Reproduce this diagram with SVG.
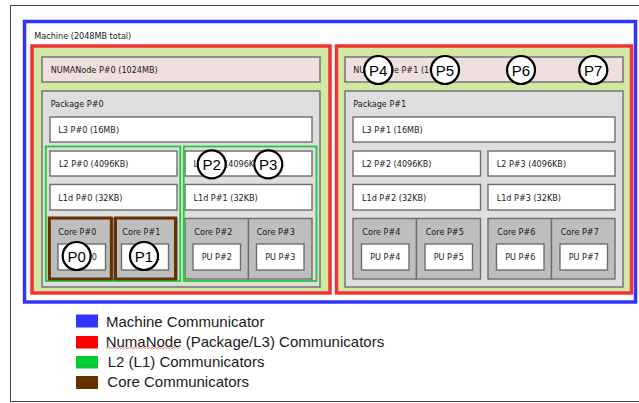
<svg xmlns="http://www.w3.org/2000/svg" width="639" height="403" viewBox="0 0 639 403">
<style>
.box{stroke:#6e6e6e;stroke-width:1.4}
.numa{fill:#efdfde}
.pkg{fill:#dedede}
.cache{fill:#ffffff}
.core{fill:#bebebe}
.pu{fill:#ffffff}
.lbl{font-family:"DejaVu Sans",sans-serif;font-size:8.1px;fill:#1a1a1a}
.mid{text-anchor:middle}
.l2c{fill:none;stroke:#22cc33;stroke-width:1.8}
.corec{fill:none;stroke:#663300;stroke-width:3}
.pc circle{fill:#ffffff;stroke:#000000;stroke-width:2.2}
.pc text{font-family:"Liberation Sans",Arial,sans-serif;font-size:15px;text-anchor:middle;fill:#000}
.leg{font-family:"Liberation Sans",Arial,sans-serif;font-size:15px;fill:#1a1a1a}
</style>
<rect x="0" y="0" width="639" height="403" fill="#ffffff"/>
<path d="M639 5.5H10.5V401.5H639" fill="none" stroke="#444" stroke-width="1"/>

<g id="machine">
<rect x="24.5" y="21.5" width="611" height="280.5" fill="#ffffff" stroke="#3333ff" stroke-width="3.5"/>
<text class="lbl" x="34.3" y="39">Machine (2048MB total)</text>
</g>

<g id="numa0">
<rect x="32" y="46" width="298" height="247" fill="#d2e7a4" stroke="#f33333" stroke-width="3.5"/>
<rect class="box numa" x="42" y="57" width="278" height="25"/>
<text class="lbl" x="50.7" y="73.3">NUMANode P#0 (1024MB)</text>
</g>
<g id="package0">
<rect class="box pkg" x="42" y="91" width="278" height="196"/>
<text class="lbl" x="50.7" y="106.7">Package P#0</text>
</g>
<g id="l3-0">
<rect class="box cache" x="50" y="117" width="262" height="25"/>
<text class="lbl" x="58.3" y="133">L3 P#0 (16MB)</text>
</g>
<g id="l2-0">
<rect class="box cache" x="50" y="151" width="127" height="25"/>
<text class="lbl" x="59" y="166.7">L2 P#0 (4096KB)</text>
</g>
<g id="l2-1">
<rect class="box cache" x="185" y="151" width="127" height="25"/>
<text class="lbl" x="193.5" y="166.7">L2 P#1 (4096KB)</text>
</g>
<g id="l1-0">
<rect class="box cache" x="50" y="184.5" width="127" height="25.5"/>
<text class="lbl" x="58.3" y="201">L1d P#0 (32KB)</text>
</g>
<g id="l1-1">
<rect class="box cache" x="185" y="184.5" width="127" height="25.5"/>
<text class="lbl" x="193.5" y="201">L1d P#1 (32KB)</text>
</g>
<g id="core0">
<rect class="box core" x="50" y="218.5" width="63" height="60.5"/>
<text class="lbl" x="58.3" y="235">Core P#0</text>
<rect class="box pu" x="58" y="244" width="47.5" height="26"/>
<text class="lbl mid" x="81.8" y="260">PU P#0</text>
</g>
<g id="core1">
<rect class="box core" x="113" y="218.5" width="64" height="60.5"/>
<text class="lbl" x="122.3" y="235">Core P#1</text>
<rect class="box pu" x="121.5" y="244" width="47" height="26"/>
<text class="lbl mid" x="145" y="260">PU P#1</text>
</g>
<g id="core2">
<rect class="box core" x="185" y="218.5" width="63.5" height="60.5"/>
<text class="lbl" x="194.3" y="235">Core P#2</text>
<rect class="box pu" x="193" y="244" width="47.5" height="26"/>
<text class="lbl mid" x="216.8" y="260">PU P#2</text>
</g>
<g id="core3">
<rect class="box core" x="248.5" y="218.5" width="63.5" height="60.5"/>
<text class="lbl" x="256.7" y="235">Core P#3</text>
<rect class="box pu" x="256.5" y="244" width="47.5" height="26"/>
<text class="lbl mid" x="280.3" y="260">PU P#3</text>
</g>

<g id="numa1">
<rect x="336.5" y="46" width="295" height="247" fill="#d2e7a4" stroke="#f33333" stroke-width="3.5"/>
<rect class="box numa" x="345" y="57" width="278" height="25"/>
<text class="lbl" x="353.3" y="73.3">NUMANode P#1 (1024MB)</text>
</g>
<g id="package1">
<rect class="box pkg" x="345" y="91" width="278" height="196"/>
<text class="lbl" x="353.3" y="106.7">Package P#1</text>
</g>
<g id="l3-1">
<rect class="box cache" x="353" y="117" width="262" height="25"/>
<text class="lbl" x="362" y="133">L3 P#1 (16MB)</text>
</g>
<g id="l2-2">
<rect class="box cache" x="353" y="151" width="127.5" height="25"/>
<text class="lbl" x="362" y="166.7">L2 P#2 (4096KB)</text>
</g>
<g id="l2-3">
<rect class="box cache" x="488" y="151" width="127" height="25"/>
<text class="lbl" x="496.7" y="166.7">L2 P#3 (4096KB)</text>
</g>
<g id="l1-2">
<rect class="box cache" x="353" y="184.5" width="127.5" height="25.5"/>
<text class="lbl" x="362" y="201">L1d P#2 (32KB)</text>
</g>
<g id="l1-3">
<rect class="box cache" x="488" y="184.5" width="127" height="25.5"/>
<text class="lbl" x="496.7" y="201">L1d P#3 (32KB)</text>
</g>
<g id="core4">
<rect class="box core" x="353" y="218.5" width="63.5" height="60.5"/>
<text class="lbl" x="362.3" y="235">Core P#4</text>
<rect class="box pu" x="361.5" y="244" width="47.5" height="26"/>
<text class="lbl mid" x="385.3" y="260">PU P#4</text>
</g>
<g id="core5">
<rect class="box core" x="416.5" y="218.5" width="64" height="60.5"/>
<text class="lbl" x="425.7" y="235">Core P#5</text>
<rect class="box pu" x="425" y="244" width="47.5" height="26"/>
<text class="lbl mid" x="448.8" y="260">PU P#5</text>
</g>
<g id="core6">
<rect class="box core" x="488" y="218.5" width="63.5" height="60.5"/>
<text class="lbl" x="497.3" y="235">Core P#6</text>
<rect class="box pu" x="496.5" y="244" width="47.5" height="26"/>
<text class="lbl mid" x="520.3" y="260">PU P#6</text>
</g>
<g id="core7">
<rect class="box core" x="551.5" y="218.5" width="63.5" height="60.5"/>
<text class="lbl" x="560.7" y="235">Core P#7</text>
<rect class="box pu" x="560" y="244" width="47.5" height="26"/>
<text class="lbl mid" x="583.8" y="260">PU P#7</text>
</g>

<g id="l2-communicators">
<rect class="l2c" x="45.8" y="146.5" width="134.4" height="134.5"/>
<rect class="l2c" x="183.8" y="146.5" width="132.7" height="134.5"/>
</g>
<g id="core-communicators">
<rect class="corec" x="49.3" y="218" width="62" height="61"/>
<rect class="corec" x="115.5" y="218" width="60" height="61"/>
</g>

<g id="processes" class="pc">
<g id="p0"><circle cx="76.7" cy="256" r="14"/><text x="76.7" y="261.5">P0</text></g>
<g id="p1"><circle cx="144" cy="256" r="14"/><text x="144" y="261.5">P1</text></g>
<g id="p2"><circle cx="211.7" cy="164.3" r="14"/><text x="211.7" y="169.8">P2</text></g>
<g id="p3"><circle cx="268.3" cy="164.3" r="14"/><text x="268.3" y="169.8">P3</text></g>
<g id="p4"><circle cx="378.3" cy="70" r="14"/><text x="378.3" y="75.5">P4</text></g>
<g id="p5"><circle cx="445" cy="70" r="14"/><text x="445" y="75.5">P5</text></g>
<g id="p6"><circle cx="521" cy="70" r="14"/><text x="521" y="75.5">P6</text></g>
<g id="p7"><circle cx="593.3" cy="70" r="14"/><text x="593.3" y="75.5">P7</text></g>
</g>

<g id="legend">
<rect x="76" y="314.5" width="22" height="13" fill="#3333ff"/>
<text class="leg" x="106" y="326.7">Machine Communicator</text>
<rect x="76" y="336" width="22" height="12.5" fill="#ff0000"/>
<text class="leg" x="105.7" y="346.7">NumaNode (Package/L3) Communicators</text>
<path d="M106 348.6l1.5-1.2l1.5 1.2l1.5-1.2l1.5 1.2l1.5-1.2l1.5 1.2l1.5-1.2l1.5 1.2l1.5-1.2l1.5 1.2l1.5-1.2l1.5 1.2l1.5-1.2l1.5 1.2l1.5-1.2l1.5 1.2l1.5-1.2l1.5 1.2l1.5-1.2l1.5 1.2l1.5-1.2l1.5 1.2l1.5-1.2l1.5 1.2l1.5-1.2l1.5 1.2l1.5-1.2l1.5 1.2l1.5-1.2l1.5 1.2l1.5-1.2l1.5 1.2l1.5-1.2l1.5 1.2l1.5-1.2l1.5 1.2l1.5-1.2l1.5 1.2l1.5-1.2l1.5 1.2l1.5-1.2l1.5 1.2l1.5-1.2l1.5 1.2l1.5-1.2l1.5 1.2l1.5-1.2l1.5 1.2l1.5-1.2" fill="none" stroke="#ee3333" stroke-width="0.7"/>
<rect x="76" y="356" width="22" height="12.5" fill="#00cc33"/>
<text class="leg" x="107.7" y="367.3">L2 (L1) Communicators</text>
<rect x="76" y="376" width="22" height="13" fill="#663300"/>
<text class="leg" x="107.3" y="387.3">Core Communicators</text>
</g>
</svg>
